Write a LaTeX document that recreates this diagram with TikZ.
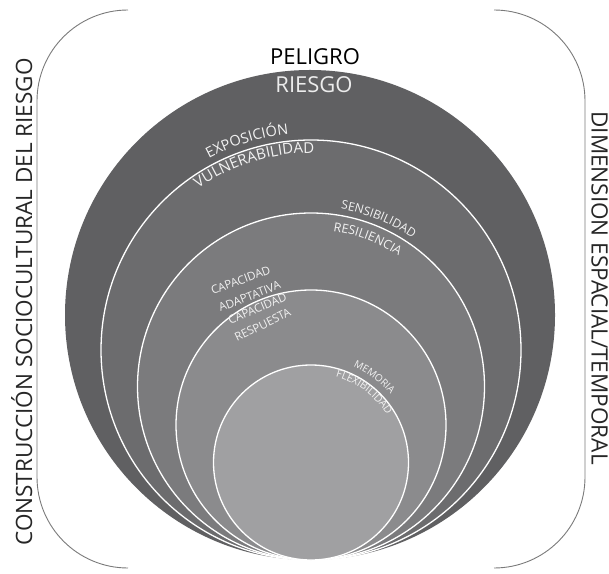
\documentclass[tikz,border=0pt]{standalone}
\usepackage{fontspec}
\setmainfont{Open Sans}
\usetikzlibrary{decorations.text}
\definecolor{ringA}{HTML}{606062}
\definecolor{ringB}{HTML}{6C6C6E}
\definecolor{ringC}{HTML}{7B7B7D}
\definecolor{ringD}{HTML}{8B8B8D}
\definecolor{ringE}{HTML}{A0A0A2}
\definecolor{labw}{HTML}{F2F2F2}
\definecolor{framec}{HTML}{7A7A7A}
\newcommand\fsz[1]{\fontsize{#1}{#1}\selectfont}
% #1 cx, #2 cy, #3 radius, #4 start angle, #5 end angle, #6 font size, #7 text
\newcommand\arclabel[7]{%
  \path[decorate,decoration={text along path,text align=center,text color=labw,
    text={|\fsz{#6}|#7}}] (#1,#2) ++(#4:#3) arc[start angle=#4,end angle=#5,radius=#3];}
\tikzset{
  ring/.style={draw=white,line width=1.3pt},
  sidetext/.style={font=\fsz{22.5},text=black!85,inner sep=0pt},
  toptext/.style={font=\fsz{22},inner sep=0pt,anchor=base},
  caplab/.style={font=\fsz{11.5},text=labw,inner sep=0pt,anchor=base},
  framel/.style={draw=framec,line width=0.9pt}
}
\begin{document}
\begin{tikzpicture}[x=1pt,y=1pt]
\useasboundingbox (0,0) rectangle (609,573);
% frame (corners and sides only)
\draw[framel] (128,563) arc[start angle=90,end angle=180,radius=91] -- (37,96)
  arc[start angle=180,end angle=270,radius=91];
\draw[framel] (494,563) arc[start angle=90,end angle=0,radius=91] -- (585,96)
  arc[start angle=0,end angle=-90,radius=91];
% rings
\fill[ringA] (310,258) circle[radius=245];
\filldraw[ring,fill=ringB] (311,223) circle[radius=210];
\filldraw[ring,fill=ringC] (311,186.5) circle[radius=173.5];
\filldraw[ring,fill=ringD] (311,148) circle[radius=135];
\filldraw[ring,fill=ringE] (311,110.5) circle[radius=97.5];
% top labels
\node[toptext,text=black] (peligro) at (315,508) {PELIGRO};
\node[toptext,text=labw!95!gray] (riesgo) at (314,480) {RIESGO};
% arc labels
\arclabel{311}{223}{217}{150}{64}{14.5}{EXPOSICIÓN}
\arclabel{311}{223}{197}{150}{64}{15}{VULNERABILIDAD}
\arclabel{311}{186.5}{180}{108}{28}{12}{SENSIBILIDAD}
\arclabel{311}{186.5}{157}{109}{29}{12.5}{RESILIENCIA}
\arclabel{311}{110.5}{105}{95}{12}{10}{MEMORIA}
\arclabel{311}{110.5}{89.5}{95}{11}{10.5}{FLEXIBILIDAD}
% capacidad labels
\node[caplab,rotate=20] (capa) at (242,289) {CAPACIDAD};
\node[caplab,rotate=21] (adap) at (251,273) {ADAPTATIVA};
\node[caplab,rotate=23] (capr) at (259,260.5) {CAPACIDAD};
\node[caplab,rotate=26] (resp) at (264.5,244.5) {RESPUESTA};
% side labels
\node[sidetext,rotate=90,anchor=base] (left) at (32,271) {CONSTRUCCIÓN SOCIOCULTURAL DEL RIESGO};
\node[sidetext,rotate=-90,anchor=base] (right) at (591.5,285) {DIMENSION ESPACIAL/TEMPORAL};
\end{tikzpicture}
\end{document}
